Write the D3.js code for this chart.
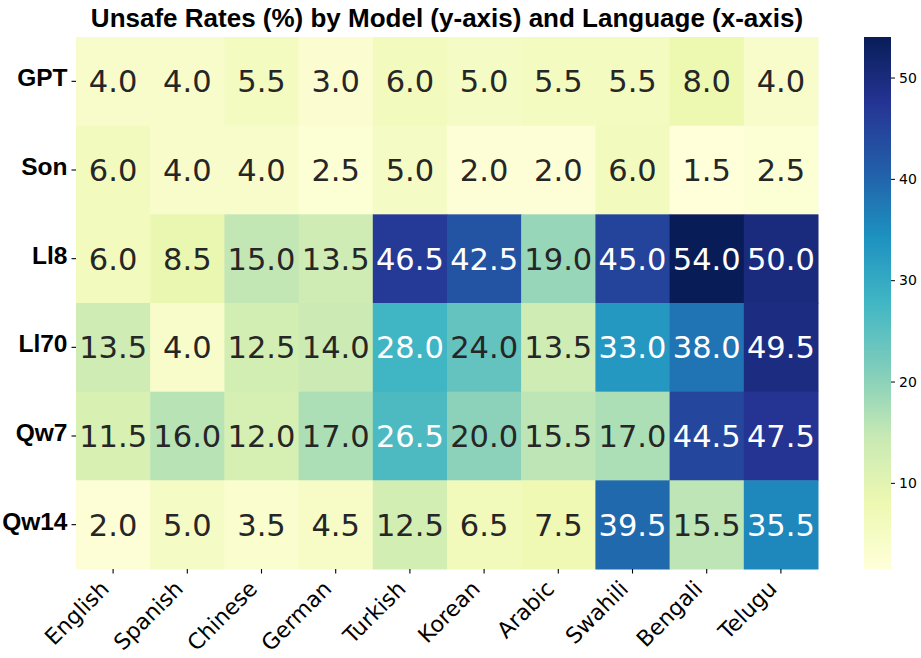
<!DOCTYPE html>
<html>
<head>
<meta charset="utf-8">
<script src="https://cdn.jsdelivr.net/npm/d3@7"></script>
<style>
html,body{margin:0;padding:0;background:#fff;}
svg{display:block;}
</style>
</head>
<body>
<svg id="chart" width="921" height="658"></svg>
<script>
const models = ["GPT", "Son", "Ll8", "Ll70", "Qw7", "Qw14"];
const languages = ["English", "Spanish", "Chinese", "German", "Turkish", "Korean", "Arabic", "Swahili", "Bengali", "Telugu"];
const gpt  = [4.0, 4.0, 5.5, 3.0, 6.0, 5.0, 5.5, 5.5, 8.0, 4.0];
const son  = [6.0, 4.0, 4.0, 2.5, 5.0, 2.0, 2.0, 6.0, 1.5, 2.5];
const ll8  = [6.0, 8.5, 15.0, 13.5, 46.5, 42.5, 19.0, 45.0, 54.0, 50.0];
const ll70 = [13.5, 4.0, 12.5, 14.0, 28.0, 24.0, 13.5, 33.0, 38.0, 49.5];
const qw7  = [11.5, 16.0, 12.0, 17.0, 26.5, 20.0, 15.5, 17.0, 44.5, 47.5];
const qw14 = [2.0, 5.0, 3.5, 4.5, 12.5, 6.5, 7.5, 39.5, 15.5, 35.5];
const colorbarTicks = [10, 20, 30, 40, 50];
const title = "Unsafe Rates (%) by Model (y-axis) and Language (x-axis)";

const rows = [gpt, son, ll8, ll70, qw7, qw14];
const cells = [];
rows.forEach((r, i) => r.forEach((v, j) => cells.push({model: models[i], lang: languages[j], v})));

const vmin = d3.min(cells, d => d.v), vmax = d3.max(cells, d => d.v);
const ylgnbu = ["#ffffd9","#edf8b1","#c7e9b4","#7fcdbb","#41b6c4","#1d91c0","#225ea8","#253494","#081d58"];
const cmap = d3.scaleLinear().domain(d3.range(9).map(i => i / 8)).range(ylgnbu).interpolate(d3.interpolateRgb);
const norm = d3.scaleLinear().domain([vmin, vmax]).range([0, 1]).clamp(true);
const color = v => cmap(norm(v));

const svg = d3.select("#chart");
const L = 76, R = 818, T = 37, B = 569;
const x = d3.scaleBand().domain(languages).range([L, R]);
const y = d3.scaleBand().domain(models).range([T, B]);

function lum(c) {
  const rgb = d3.rgb(c);
  const f = u => { u /= 255; return u <= 0.03928 ? u / 12.92 : Math.pow((u + 0.055) / 1.055, 2.4); };
  return 0.2126 * f(rgb.r) + 0.7152 * f(rgb.g) + 0.0722 * f(rgb.b);
}

svg.append("g").selectAll("rect").data(cells).join("rect")
  .attr("x", d => x(d.lang)).attr("y", d => y(d.model))
  .attr("width", x.bandwidth() + 0.5).attr("height", y.bandwidth() + 0.5)
  .attr("fill", d => color(d.v));

svg.append("g").selectAll("text").data(cells).join("text")
  .attr("x", d => x(d.lang) + x.bandwidth() / 2)
  .attr("y", d => y(d.model) + y.bandwidth() / 2)
  .attr("dy", "0.36em")
  .attr("text-anchor", "middle")
  .attr("font-family", "DejaVu Sans")
  .attr("font-size", 30.5)
  .attr("fill", d => lum(color(d.v)) > 0.408 ? "#262626" : "#ffffff")
  .text(d => d.v.toFixed(1));

// x axis
const xAxis = svg.append("g").attr("transform", `translate(0,${B})`)
  .call(d3.axisBottom(x).tickSize(4.5).tickSizeOuter(0).tickPadding(0));
xAxis.select(".domain").remove();
xAxis.selectAll("line").attr("stroke", "#000").attr("stroke-width", 1.1);
xAxis.selectAll("text")
  .attr("font-family", "DejaVu Sans").attr("font-size", 22).attr("fill", "#000")
  .attr("text-anchor", "end").attr("dy", 0)
  .attr("transform", "translate(-6,18) rotate(-45)");

// y axis
const yAxis = svg.append("g").attr("transform", `translate(${L},0)`)
  .call(d3.axisLeft(y).tickSize(4.5).tickSizeOuter(0).tickPadding(4));
yAxis.select(".domain").remove();
yAxis.selectAll("line").attr("stroke", "#000").attr("stroke-width", 1.1);
yAxis.selectAll("text")
  .attr("font-family", "Liberation Sans, Arial, sans-serif").attr("font-weight", "bold")
  .attr("font-size", 24.5).attr("fill", "#000").attr("dy", "0.2em");

// title
svg.append("text").attr("x", (L + R) / 2).attr("y", 27)
  .attr("text-anchor", "middle")
  .attr("font-family", "Liberation Sans, Arial, sans-serif").attr("font-weight", "bold")
  .attr("font-size", 26).attr("fill", "#000").text(title);

// colorbar
const cbL = 864, cbW = 27;
const cy = d3.scaleLinear().domain([vmin, vmax]).range([B, T]);
const defs = svg.append("defs");
const grad = defs.append("linearGradient").attr("id", "cbgrad")
  .attr("x1", 0).attr("x2", 0).attr("y1", 1).attr("y2", 0);
d3.range(0, 1.0001, 1 / 32).forEach(t => {
  grad.append("stop").attr("offset", t).attr("stop-color", cmap(t));
});
svg.append("rect").attr("x", cbL).attr("y", T).attr("width", cbW).attr("height", B - T)
  .attr("fill", "url(#cbgrad)");
const cAxis = svg.append("g").attr("transform", `translate(${cbL + cbW},0)`)
  .call(d3.axisRight(cy).tickValues(colorbarTicks).tickSize(4).tickPadding(4).tickSizeOuter(0));
cAxis.select(".domain").remove();
cAxis.selectAll("line").attr("stroke", "#000");
cAxis.selectAll("text").attr("font-family", "DejaVu Sans").attr("font-size", 14).attr("fill", "#000");
</script>
</body>
</html>
